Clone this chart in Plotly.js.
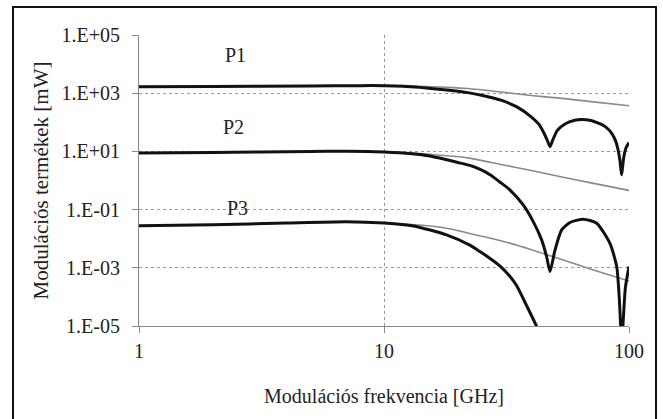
<!DOCTYPE html>
<html>
<head>
<meta charset="utf-8">
<script src="https://cdn.plot.ly/plotly-3.0.1.min.js"></script>
<style>html,body{margin:0;padding:0;background:#fff;}#chart{width:663px;height:419px;}</style>
</head>
<body>
<div id="chart"></div>
<script>
// Frequencies in GHz, products in mW
const p1Freq = [1, 2, 5, 8, 10, 12, 14, 18, 22, 25, 30, 35, 40, 43, 45, 46.4, 47.6, 49, 51, 55, 60, 64, 70, 75, 80, 85, 88, 90, 91.8, 93.3, 95, 97, 100];
const p1Black = [1660, 1700, 1778, 1820, 1820, 1738, 1585, 1288, 1047, 851, 575, 331, 151, 83, 42, 24, 14.5, 26.3, 52.5, 89, 117, 126, 115, 93, 71, 42, 24, 12.6, 5.0, 1.55, 5.6, 12.6, 20];

const p2Freq = [1, 2, 5, 7, 10, 13, 15.4, 20, 22.4, 24.7, 27.1, 29.7, 32.7, 37, 40.7, 44, 46.1, 47.6, 49.9, 53.1, 57.4, 65, 73.8, 83.6, 89.1, 91.2, 93.4, 96.6, 100];
const p2Black = [8.8, 9.1, 10, 10.2, 9.55, 8.3, 6.9, 4.17, 3.31, 2.4, 1.58, 0.89, 0.47, 0.145, 0.038, 0.0091, 0.0024, 0.00074, 0.0041, 0.02, 0.036, 0.047, 0.034, 0.0069, 0.0011, 0.0001, 0.000003, 0.0002, 0.0011];

const p3Freq = [1, 2, 4, 7, 10, 13.2, 18, 22.4, 24.7, 27.1, 29.7, 32.7, 34.8, 38.2, 42, 44];
const p3Black = [0.028, 0.030, 0.0347, 0.0384, 0.0347, 0.0275, 0.0135, 0.006, 0.00355, 0.0021, 0.00117, 0.0005, 0.00024, 0.00005, 0.0000095, 0.0000032];

const grayFreq = [10, 14, 18, 22, 30, 40, 52, 70, 100];
const p1Gray = [1820, 1720, 1585, 1445, 1100, 830, 676, 513, 372];
const p2Gray = [9.5, 8.5, 7.1, 6.0, 3.55, 2.19, 1.38, 0.83, 0.457];
const p3Gray = [0.0347, 0.0295, 0.0229, 0.0158, 0.0085, 0.0042, 0.00204, 0.00089, 0.00035];

const yTickVals = [1e-5, 1e-3, 1e-1, 1e1, 1e3, 1e5];
const yTickText = ['1.E-05', '1.E-03', '1.E-01', '1.E+01', '1.E+03', '1.E+05'];
const xTickVals = [1, 10, 100];
const xTickText = ['1', '10', '100'];

const seriesLabels = ['P1', 'P2', 'P3'];
const labelFreq = [2.48, 2.42, 2.53];
const labelPos = [20000, 70, 0.115];

const FONT = 'Times New Roman';
const TXT = '#222';
const grayLine = {color: '#8a8a8a', width: 1.6, shape: 'spline', smoothing: 0.6};
const blackLine = {color: '#111', width: 3, shape: 'spline', smoothing: 0.6};

const traces = [
  {x: grayFreq, y: p1Gray, mode: 'lines', line: grayLine},
  {x: grayFreq, y: p2Gray, mode: 'lines', line: grayLine},
  {x: grayFreq, y: p3Gray, mode: 'lines', line: grayLine},
  {x: p1Freq, y: p1Black, mode: 'lines', line: blackLine},
  {x: p2Freq, y: p2Black, mode: 'lines', line: blackLine},
  {x: p3Freq, y: p3Black, mode: 'lines', line: blackLine}
];

const layout = {
  width: 663, height: 419,
  margin: {l: 139, r: 34, t: 35, b: 93},
  paper_bgcolor: '#fff', plot_bgcolor: '#fff',
  showlegend: false,
  xaxis: {
    type: 'log', range: [0, 2],
    tickvals: xTickVals, ticktext: xTickText,
    ticks: 'outside', ticklen: 6, tickcolor: '#888',
    showline: true, linecolor: '#888', linewidth: 1,
    showgrid: true, gridcolor: '#999', griddash: 'dot', gridwidth: 1,
    zeroline: false, ticklabelstandoff: 1,
    tickfont: {family: FONT, size: 20, color: TXT},
    title: {text: 'Modulációs frekvencia [GHz]', font: {family: FONT, size: 20, color: TXT}, standoff: 27}
  },
  yaxis: {
    type: 'log', range: [-5, 5],
    tickvals: yTickVals, ticktext: yTickText,
    ticks: 'outside', ticklen: 6, tickcolor: '#888',
    showline: true, linecolor: '#888', linewidth: 1,
    showgrid: true, gridcolor: '#999', griddash: 'dot', gridwidth: 1,
    zeroline: false, ticklabelstandoff: 8,
    tickfont: {family: FONT, size: 20, color: TXT},
    title: {text: 'Modulációs termékek [mW]', font: {family: FONT, size: 21, color: TXT}, standoff: 7}
  },
  annotations: seriesLabels.map((t, i) => ({
    x: Math.log10(labelFreq[i]), y: Math.log10(labelPos[i]), xref: 'x', yref: 'y',
    text: t, showarrow: false, font: {family: FONT, size: 20, color: TXT}
  })),
  shapes: [{
    type: 'rect', xref: 'paper', yref: 'paper',
    x0: -0.2571, x1: 1.0551, y0: -0.36, y1: 1.0962,
    line: {color: '#111', width: 2}
  }]
};

Plotly.newPlot('chart', traces, layout, {staticPlot: true});
</script>
</body>
</html>
